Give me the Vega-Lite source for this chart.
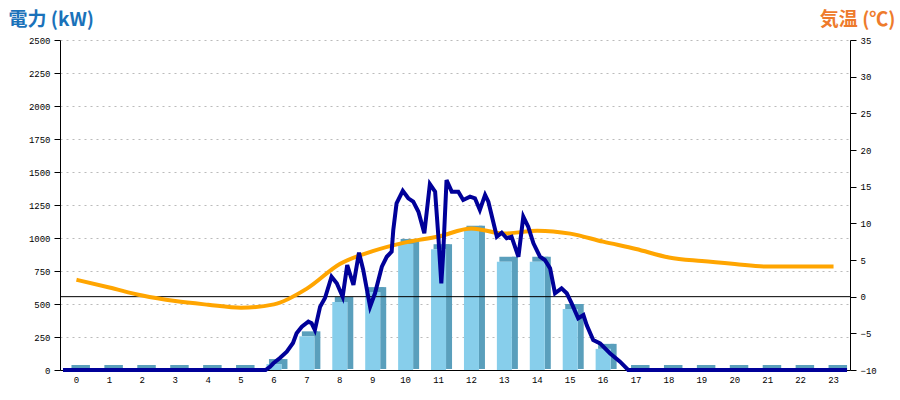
{
  "$schema": "https://vega.github.io/schema/vega-lite/v6.json",
  "width": 790,
  "height": 330,
  "autosize": {"type": "none"},
  "padding": {"left": 60, "top": 40, "right": 50, "bottom": 30},
  "background": "white",
  "config": {
    "view": {"stroke": null},
    "axis": {
      "labelFont": "Liberation Mono",
      "labelFontSize": 9,
      "labelColor": "#000000",
      "domainColor": "#000000",
      "tickColor": "#000000",
      "domainWidth": 1,
      "tickWidth": 1
    }
  },
  "datasets": {
    "bars": [
      {"hour": 0, "kw": 0}, {"hour": 1, "kw": 0}, {"hour": 2, "kw": 0}, {"hour": 3, "kw": 0},
      {"hour": 4, "kw": 0}, {"hour": 5, "kw": 0}, {"hour": 6, "kw": 45}, {"hour": 7, "kw": 255},
      {"hour": 8, "kw": 515}, {"hour": 9, "kw": 590}, {"hour": 10, "kw": 955}, {"hour": 11, "kw": 915},
      {"hour": 12, "kw": 1055}, {"hour": 13, "kw": 820}, {"hour": 14, "kw": 820}, {"hour": 15, "kw": 462},
      {"hour": 16, "kw": 160}, {"hour": 17, "kw": 0}, {"hour": 18, "kw": 0}, {"hour": 19, "kw": 0},
      {"hour": 20, "kw": 0}, {"hour": 21, "kw": 0}, {"hour": 22, "kw": 0}, {"hour": 23, "kw": 0}
    ],
    "temp": [
      {"hour": 0, "c": 2.3}, {"hour": 1, "c": 1.25}, {"hour": 2, "c": 0.15}, {"hour": 3, "c": -0.6},
      {"hour": 4, "c": -1.1}, {"hour": 5, "c": -1.5}, {"hour": 6, "c": -1.05}, {"hour": 7, "c": 1.1},
      {"hour": 8, "c": 4.45}, {"hour": 9, "c": 6.2}, {"hour": 10, "c": 7.4}, {"hour": 11, "c": 8.2},
      {"hour": 12, "c": 9.3}, {"hour": 13, "c": 8.6}, {"hour": 14, "c": 9.0}, {"hour": 15, "c": 8.6},
      {"hour": 16, "c": 7.5}, {"hour": 17, "c": 6.5}, {"hour": 18, "c": 5.35}, {"hour": 19, "c": 4.85},
      {"hour": 20, "c": 4.45}, {"hour": 21, "c": 4.1}, {"hour": 22, "c": 4.1}, {"hour": 23, "c": 4.1}
    ],
    "power": [
      {"t": 0, "kw": 0}, {"t": 6.2, "kw": 0}, {"t": 6.34, "kw": 25}, {"t": 6.44, "kw": 51},
      {"t": 6.64, "kw": 91}, {"t": 6.85, "kw": 139}, {"t": 7.04, "kw": 205}, {"t": 7.15, "kw": 278},
      {"t": 7.31, "kw": 328}, {"t": 7.51, "kw": 366}, {"t": 7.61, "kw": 354}, {"t": 7.71, "kw": 303},
      {"t": 7.87, "kw": 480}, {"t": 8.02, "kw": 545}, {"t": 8.22, "kw": 707}, {"t": 8.38, "kw": 657},
      {"t": 8.56, "kw": 555}, {"t": 8.7, "kw": 795}, {"t": 8.89, "kw": 644}, {"t": 9.06, "kw": 889},
      {"t": 9.19, "kw": 758}, {"t": 9.4, "kw": 480}, {"t": 9.55, "kw": 581}, {"t": 9.76, "kw": 783},
      {"t": 9.91, "kw": 858}, {"t": 10.06, "kw": 896}, {"t": 10.11, "kw": 1061}, {"t": 10.21, "kw": 1263},
      {"t": 10.4, "kw": 1358}, {"t": 10.57, "kw": 1301}, {"t": 10.72, "kw": 1275}, {"t": 10.88, "kw": 1199},
      {"t": 11.06, "kw": 1036}, {"t": 11.23, "kw": 1409}, {"t": 11.39, "kw": 1351}, {"t": 11.49, "kw": 1010},
      {"t": 11.58, "kw": 657}, {"t": 11.64, "kw": 894}, {"t": 11.74, "kw": 1439}, {"t": 11.9, "kw": 1351},
      {"t": 12.1, "kw": 1351}, {"t": 12.25, "kw": 1288}, {"t": 12.46, "kw": 1313}, {"t": 12.61, "kw": 1301},
      {"t": 12.76, "kw": 1212}, {"t": 12.92, "kw": 1326}, {"t": 13.02, "kw": 1275}, {"t": 13.28, "kw": 1010},
      {"t": 13.43, "kw": 1040}, {"t": 13.58, "kw": 998}, {"t": 13.73, "kw": 1010}, {"t": 13.94, "kw": 858},
      {"t": 14.09, "kw": 1161}, {"t": 14.24, "kw": 1086}, {"t": 14.4, "kw": 960}, {"t": 14.6, "kw": 858},
      {"t": 14.75, "kw": 833}, {"t": 14.91, "kw": 770}, {"t": 15.06, "kw": 581}, {"t": 15.26, "kw": 619},
      {"t": 15.42, "kw": 581}, {"t": 15.57, "kw": 505}, {"t": 15.77, "kw": 392}, {"t": 15.93, "kw": 417},
      {"t": 16.03, "kw": 340}, {"t": 16.23, "kw": 227}, {"t": 16.44, "kw": 202}, {"t": 16.74, "kw": 127},
      {"t": 17.05, "kw": 63}, {"t": 17.3, "kw": 0}, {"t": 24, "kw": 0}
    ],
    "zero": [{"c": 0}]
  },
  "resolve": {"scale": {"x": "independent", "y": "independent"}, "axis": {"x": "independent", "y": "independent"}},
  "layer": [
    {
      "data": {"name": "bars"},
      "mark": {"type": "bar", "color": "#5a9fbc", "width": 6, "xOffset": 10.5, "yOffset": -5, "y2Offset": -1},
      "encoding": {
        "x": {"field": "hour", "type": "ordinal", "sort": null,
          "scale": {"paddingInner": 0, "paddingOuter": 0},
          "axis": {"title": null, "labelAngle": 0, "ticks": false, "labelPadding": 5, "grid": false, "domain": true}},
        "y": {"field": "kw", "type": "quantitative",
          "scale": {"domain": [0, 2500], "nice": false, "zero": true},
          "axis": {
            "values": [0, 250, 500, 750, 1000, 1250, 1500, 1750, 2000, 2250, 2500],
            "format": "d", "tickSize": 6, "labelPadding": 4, "grid": true,
            "gridDash": [2, 4], "gridColor": "#bbbbbb", "gridWidth": 1,
            "title": "電力 (kW)", "titleAngle": 0, "titleAlign": "left", "titleBaseline": "alphabetic",
            "titleX": -52, "titleY": -15, "titleFont": "Noto Sans CJK JP", "titleFontSize": 19,
            "titleFontWeight": "bold", "titleColor": "#1a72ba"
          }},
        "y2": {"datum": 0}
      }
    },
    {
      "data": {"name": "bars"},
      "mark": {"type": "bar", "color": "#5a9fbc", "width": 16, "xOffset": 3, "yOffset": -5, "y2Offset": 0},
      "encoding": {
        "x": {"field": "hour", "type": "ordinal", "sort": null,
          "scale": {"paddingInner": 0, "paddingOuter": 0}, "axis": null},
        "y": {"field": "kw", "type": "quantitative",
          "scale": {"domain": [0, 2500], "nice": false, "zero": true}, "axis": null},
        "y2": {"field": "kw"}
      }
    },
    {
      "data": {"name": "bars"},
      "mark": {"type": "bar", "color": "#87ceeb", "width": 15},
      "encoding": {
        "x": {"field": "hour", "type": "ordinal", "sort": null,
          "scale": {"paddingInner": 0, "paddingOuter": 0}, "axis": null},
        "y": {"field": "kw", "type": "quantitative",
          "scale": {"domain": [0, 2500], "nice": false, "zero": true}, "axis": null}
      }
    },
    {
      "data": {"name": "zero"},
      "mark": {"type": "rule", "color": "#000000", "strokeWidth": 1},
      "encoding": {
        "y": {"field": "c", "type": "quantitative",
          "scale": {"domain": [-10, 35], "nice": false, "zero": false}, "axis": null}
      }
    },
    {
      "data": {"name": "temp"},
      "mark": {"type": "line", "color": "#ffa500", "strokeWidth": 4, "interpolate": "monotone"},
      "encoding": {
        "x": {"field": "hour", "type": "ordinal", "sort": null,
          "scale": {"paddingInner": 0, "paddingOuter": 0}, "axis": null},
        "y": {"field": "c", "type": "quantitative",
          "scale": {"domain": [-10, 35], "nice": false, "zero": false},
          "axis": {
            "orient": "right",
            "values": [-10, -5, 0, 5, 10, 15, 20, 25, 30, 35],
            "tickSize": 6, "labelPadding": 4, "grid": false,
            "title": "気温 (℃)", "titleAngle": 0, "titleAlign": "right", "titleBaseline": "alphabetic",
            "titleX": 45, "titleY": -15, "titleFont": "Noto Sans CJK JP", "titleFontSize": 19,
            "titleFontWeight": "bold", "titleColor": "#ee7b2c"
          }}
      }
    },
    {
      "data": {"name": "power"},
      "mark": {"type": "line", "color": "#000099", "strokeWidth": 4},
      "encoding": {
        "x": {"field": "t", "type": "quantitative",
          "scale": {"domain": [-0.092, 24.09], "nice": false, "zero": false}, "axis": null},
        "y": {"field": "kw", "type": "quantitative",
          "scale": {"domain": [0, 2500], "nice": false, "zero": true}, "axis": null}
      }
    }
  ]
}
